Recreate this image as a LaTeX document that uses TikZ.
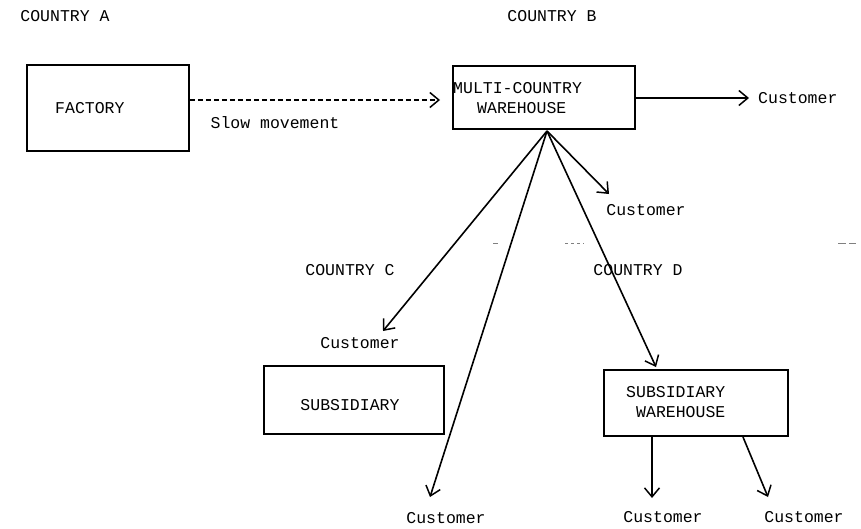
\documentclass[tikz,border=0pt]{standalone}
\usepackage{fontspec}
\setmainfont{Liberation Mono}
\usetikzlibrary{arrows.meta}
\begin{document}
\begin{tikzpicture}[x=1pt,y=-1pt,
  txt/.style={inner sep=0pt,font=\fontsize{16.5}{20}\selectfont},
  boxx/.style={draw,line width=1.7pt,inner sep=0pt},
  arr/.style={line width=1.6pt,-{Straight Barb[length=9pt,width=15pt,line width=1.5pt]}},
  faint/.style={line width=0.8pt,gray}]
\useasboundingbox (0,0) rectangle (861,528);
% country labels
\node[txt] (ca) at (65,16) {COUNTRY A};
\node[txt] (cb) at (552,16) {COUNTRY B};
\node[txt] (cc) at (350,270) {COUNTRY C};
\node[txt] (cd) at (638,270) {COUNTRY D};
% boxes
\node[boxx,minimum width=162pt,minimum height=86pt] (fac) at (108,108) {};
\node[txt,anchor=west] (factxt) at (55,108) {FACTORY};
\node[boxx,minimum width=182pt,minimum height=63pt] (mcw) at (544,97.5) {};
\node[txt,anchor=west] (mcw1) at (453,88) {MULTI-COUNTRY};
\node[txt,anchor=west] (mcw2) at (477,108) {WAREHOUSE};
\node[boxx,minimum width=180pt,minimum height=68pt] (sub) at (354,400) {};
\node[txt] (subtxt) at (350,405) {SUBSIDIARY};
\node[boxx,minimum width=184pt,minimum height=66pt] (sw) at (696,403) {};
\node[txt,anchor=west] (sw1) at (626,392) {SUBSIDIARY};
\node[txt,anchor=west] (sw2) at (636,412) {WAREHOUSE};
% customers
\node[txt,anchor=west] (cu1) at (758,98) {Customer};
\node[txt] (cu2) at (646,210) {Customer};
\node[txt] (cu3) at (360,343) {Customer};
\node[txt] (cu4) at (446,518) {Customer};
\node[txt] (cu5) at (663,517) {Customer};
\node[txt] (cu6) at (804,517) {Customer};
\node[txt] (slow) at (275,123) {Slow movement};
% connectors
\coordinate (hub) at (547,131);
\coordinate (e1) at (749,98);
\coordinate (e2) at (609,194);
\coordinate (e3) at (383,331);
\coordinate (e4) at (430,497);
\coordinate (e5) at (656,367);
\coordinate (e6) at (652,498);
\coordinate (e7) at (768,497);
\coordinate (s6) at (652,436);
\coordinate (s7) at (743,437);
\draw[arr,dashed,dash pattern=on 5pt off 3pt] (fac.east |- 0,100) -- (440,100);
\draw[arr] (mcw.east |- 0,98) -- (e1);
\draw[arr] (hub) -- (e2);
\draw[arr] (hub) -- (e3);
\draw[arr] (hub) -- (e4);
\draw[arr] (hub) -- (e5);
\draw[arr] (s6) -- (e6);
\draw[arr] (s7) -- (e7);
% faint scan marks
\draw[faint] (493,243) -- (498,243);
\draw[faint,dash pattern=on 3pt off 3pt] (565,243) -- (584,243);
\draw[faint] (838,243) -- (846,243);
\draw[faint] (849,243) -- (856,243);
\end{tikzpicture}
\end{document}
